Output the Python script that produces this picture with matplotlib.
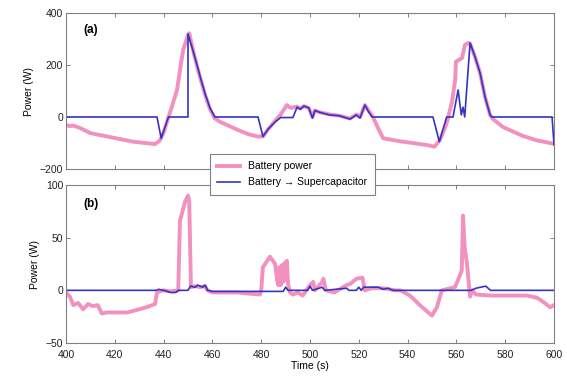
import matplotlib
matplotlib.use('Agg')
import matplotlib.pyplot as plt

plt.rcParams['font.family'] = ['Liberation Sans', 'DejaVu Sans']
plt.rcParams['font.size'] = 7.5

# (a) battery power and battery -> supercapacitor power
t_bat_a = [400, 401.5, 403, 405.7, 410, 418, 427.5, 434.4, 436.5, 438.5, 440, 442, 443.4,
           445.5, 446.7, 448, 450, 450.5, 452.5, 455, 457, 459, 461, 463, 467, 471, 475,
           478.7, 480.7, 483, 485.7, 488, 490.5, 492, 494.7, 496, 497.5, 499.5, 501, 502,
           504, 508, 512, 516.4, 519, 520.5, 522.5, 524, 525.8, 528, 530, 536, 542, 548,
           551, 553.3, 556, 558.2, 559.5, 559.8, 562.3, 563.5, 564.8, 565.6, 567.6, 569.7,
           571.7, 573.8, 575, 579, 583, 587, 593, 598.4, 600]
p_bat_a = [-30, -35, -33, -42, -62, -77, -95, -102, -104, -90, -60, 0, 40,
           104, 180, 257, 315, 322, 240, 150, 85, 30, -5, -18, -35, -52, -67,
           -75, -75, -45, -15, 10, 46, 35, 40, 32, 42, 35, 0, 25,
           18, 10, 5, -6, 10, 0, 46, 25, 0, -45, -82, -92, -100, -108,
           -114, -88, -24, 59, 142, 213, 227, 277, 285, 282, 232, 169,
           78, 8, -8, -38, -55, -72, -90, -100, -104]

t_sc_a = [400, 437.3, 439, 442, 450, 450, 452.5, 455, 457, 459, 461, 478.7, 480.7, 483,
          485.7, 488, 493, 494.7, 496, 497.5, 499.5, 501, 502, 504, 508, 512, 516.4, 519,
          520.5, 522.5, 524, 525.5, 550.4, 553, 556, 558.6, 560.7, 562, 562.7, 563.4,
          565.6, 567.6, 569.7, 571.7, 573.8, 574.5, 599.2, 600]
p_sc_a = [0, 0, -82, 0, 0, 320, 240, 155, 90, 35, 0, 0, -75, -45,
          -19, -2, -2, 38, 30, 42, 35, -4, 25, 18, 8, 5, -8, 8,
          -4, 46, 20, 0, 0, -95, 0, 0, 104, 8, 38, 0,
          285, 232, 169, 78, 8, 0, 0, -107]

# (b)
t_bat_b = [400, 401.6, 403, 405, 407, 409, 411, 413, 414.7, 416.7, 420, 425, 430, 433,
           436.5, 437.3, 440, 443, 446, 446.7, 448.8, 450, 450.5, 451.2, 453, 455, 457,
           458, 460, 470, 479.5, 480, 480.7, 483.6, 485.7, 486.5, 487, 487.5, 488, 488.5,
           489, 489.5, 490, 490.5, 491, 491.8, 493, 495, 497, 500, 501.3, 502, 505, 505.5,
           506.5, 510, 515, 516.4, 519, 521.5, 522.5, 525, 530, 535, 537, 541, 545, 550,
           552, 554, 559.4, 560.7, 562.2, 562.7, 563.4, 564.3, 565.6, 566.5, 568, 575,
           589, 593, 595.6, 598.4, 600]
p_bat_b = [-2, -6, -14, -12, -18, -13, -15, -14, -22, -21, -21, -21, -18, -16,
           -13, -2, 0, -1, 0, 66, 84, 90, 85, 3, 4, 3, 4,
           0, -2, -2, -4, 0, 22, 32, 25, 10, 5, 22, 5, 24,
           8, 26, 10, 28, 6, -2, -4, -2, -5, 5, 8, 0, 8, 11,
           0, -2, 5, 6, 11, 12, 0, 2, 2, 0, 0, -5, -14, -24,
           -16, 0, 3, 10, 19, 71, 40, 26, -6, 0, -4, -5,
           -5, -7, -11, -16, -14]

t_sc_b = [400, 437, 438, 440, 443, 445, 446, 450, 451, 453, 454, 456, 457, 458, 460, 480,
          489, 490, 491, 499, 500, 501, 505, 506, 515, 516, 519, 520, 521, 522, 525, 528,
          530, 532, 534, 566, 568, 570, 572, 574, 600]
p_sc_b = [0, 0, 1, 0, -2, -2, 0, 0, 4, 3, 5, 3, 5, 0, -1, -1,
          -1, 3, 0, 0, 4, 0, 3, 0, 2, 0, 0, 3, 0, 3, 3, 3,
          1, 2, 0, 0, 2, 3, 4, 0, 0]

pink = '#f291c0'
blue = '#3333c4'
grey = '#808080'

fig = plt.figure(figsize=(5.67, 3.81), dpi=100)
ax1 = fig.add_axes([0.1164, 0.5564, 0.8607, 0.4095])
ax2 = fig.add_axes([0.1164, 0.0997, 0.8607, 0.4147])

for ax in (ax1, ax2):
    for s in ax.spines.values():
        s.set_color(grey)
        s.set_linewidth(0.8)
    ax.tick_params(direction='in', top=True, right=True, length=3, width=0.7,
                   color=grey, labelcolor='#222222', labelsize=7.5, pad=2)
    ax.set_xlim(400, 600)
    ax.set_xticks(range(400, 601, 20))
    ax.set_ylabel('Power (W)', fontsize=7.5, labelpad=4)

ax1.plot(t_bat_a, p_bat_a, color=pink, lw=2.8, solid_joinstyle='round', label='Battery power')
ax1.plot(t_sc_a, p_sc_a, color=blue, lw=1.2, label='Battery \u2192 Supercapacitor')
ax1.set_ylim(-200, 400)
ax1.set_yticks([-200, 0, 200, 400])
ax1.set_xticklabels([])
ax1.text(0.035, 0.87, '(a)', transform=ax1.transAxes, fontsize=8.5, fontweight='bold')

ax2.plot(t_bat_b, p_bat_b, color=pink, lw=2.8, solid_joinstyle='round')
ax2.plot(t_sc_b, p_sc_b, color=blue, lw=1.2)
ax2.set_ylim(-50, 100)
ax2.set_yticks([-50, 0, 50, 100])
ax2.tick_params(axis='x', pad=5)
ax2.set_xlabel('Time (s)', fontsize=7.5, labelpad=1)
ax2.text(0.035, 0.86, '(b)', transform=ax2.transAxes, fontsize=8.5, fontweight='bold')

h, l = ax1.get_legend_handles_labels()
leg = fig.legend(h, l, loc='upper left', bbox_to_anchor=(0.370, 0.596), borderaxespad=0,
                 fancybox=False, framealpha=1, edgecolor=grey, fontsize=7.5,
                 handlelength=2.2, borderpad=0.7, labelspacing=0.6)
leg.get_frame().set_linewidth(0.8)

fig.savefig('out.png', dpi=100)
